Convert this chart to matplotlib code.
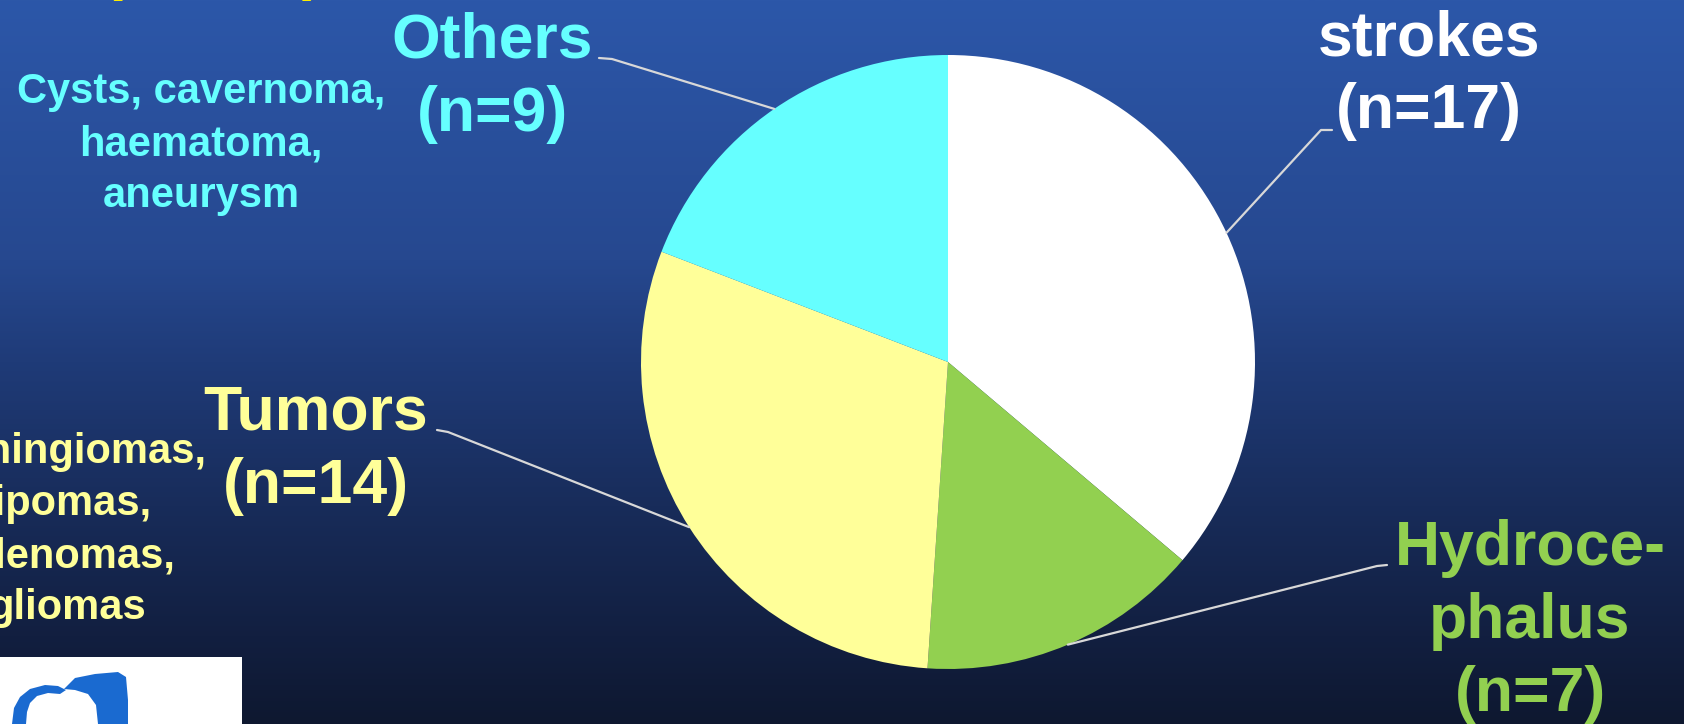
import numpy as np
import matplotlib
matplotlib.use('Agg')
import matplotlib.pyplot as plt
from matplotlib.colors import LinearSegmentedColormap
from matplotlib.patches import Polygon, Rectangle

plt.rcParams['font.family'] = ['Liberation Sans', 'DejaVu Sans']

# data
categories = ['strokes', 'Hydroce-\nphalus', 'Tumors', 'Others']
counts = [17, 7, 14, 9]
slice_colors = ['#ffffff', '#92d050', '#ffff99', '#66ffff']
details = {
    'Others': ['Cysts, cavernoma,', 'haematoma,', 'aneurysm'],
    'Tumors': ['Meningiomas,', 'lipomas,', 'adenomas,', 'gliomas'],
}

W, H = 1684, 724
fig = plt.figure(figsize=(W / 100, H / 100), dpi=100)
ax = fig.add_axes([0, 0, 1, 1])

# slide background, vertical gradient
bg = LinearSegmentedColormap.from_list('bg', [
    (0.0, '#2c57a9'), (0.36, '#26488f'), (0.5, '#1f3b78'),
    (0.7, '#182c5a'), (0.88, '#121f40'), (1.0, '#0e1830')])
grad = np.linspace(0, 1, 256).reshape(-1, 1)
ax.imshow(grad, cmap=bg, extent=(0, W, H, 0), aspect='auto', zorder=0)

# pie in pixel coords (y axis points down)
cx, cy, r = 948, 362, 307
wedges, _ = ax.pie(counts, colors=slice_colors, startangle=-90, counterclock=True,
                   center=(cx, cy), radius=r, wedgeprops=dict(linewidth=0))
for w in wedges:
    w.set_zorder(2)

# label placement: (x centre, first baseline, knee start, knee end)
layout = {
    'strokes': (1429, 55, (1332, 130), (1321, 130)),
    'Hydroce-\nphalus': (1530, 565, (1387, 565), (1377, 566)),
    'Tumors': (316, 430, (437, 430), (448, 432)),
    'Others': (492, 58, (599, 58), (612, 59)),
}
dy = 73
for w, cat, n, col in zip(wedges, categories, counts, slice_colors):
    x0, y0, k1, k2 = layout[cat]
    lines = cat.split('\n') + [f'(n={n})']
    for i, line in enumerate(lines):
        ax.text(x0, y0 + i * dy, line, color=col, fontsize=45, fontweight='bold',
                ha='center', va='baseline', zorder=3)
    th = np.deg2rad((w.theta1 + w.theta2) / 2)
    mx, my = cx + r * np.cos(th), cy + r * np.sin(th)
    ax.plot([k1[0], k2[0], mx], [k1[1], k2[1], my], color='#d8d8d8', lw=1.6,
            solid_capstyle='round', zorder=3)

# detail notes
for (cat, xc, y0), col in zip([('Others', 201, 103), ('Tumors', 67, 463)],
                              ['#66ffff', '#ffff99']):
    for i, line in enumerate(details[cat]):
        ax.text(xc, y0 + i * 52, line, color=col, fontsize=30, fontweight='bold',
                ha='center', va='baseline', zorder=3)

# cut-off heading at top left
ax.text(212, -12, '(n = 47)', color='#ffee00', fontsize=45, fontweight='bold',
        ha='center', va='baseline', zorder=3)

# partial logo bottom left
ax.add_patch(Rectangle((0, 657), 242, 70, facecolor='white', edgecolor='none', zorder=3))
ax.add_patch(Polygon([(12, 724), (14, 708), (20, 697), (30, 689), (45, 685), (58, 686),
                      (66, 690), (60, 694), (48, 693), (37, 696), (30, 703), (27, 712),
                      (26, 724)], closed=True, facecolor='#1a6ad0', edgecolor='none', zorder=4))
ax.add_patch(Polygon([(64, 689), (75, 678), (95, 674), (118, 672), (126, 677), (128, 700),
                      (128, 724), (98, 724), (96, 705), (88, 694), (75, 690)], closed=True,
                     facecolor='#1a6ad0', edgecolor='none', zorder=4))

ax.set_xlim(0, W)
ax.set_ylim(H, 0)
ax.axis('off')

fig.savefig('out.png', dpi=100)
